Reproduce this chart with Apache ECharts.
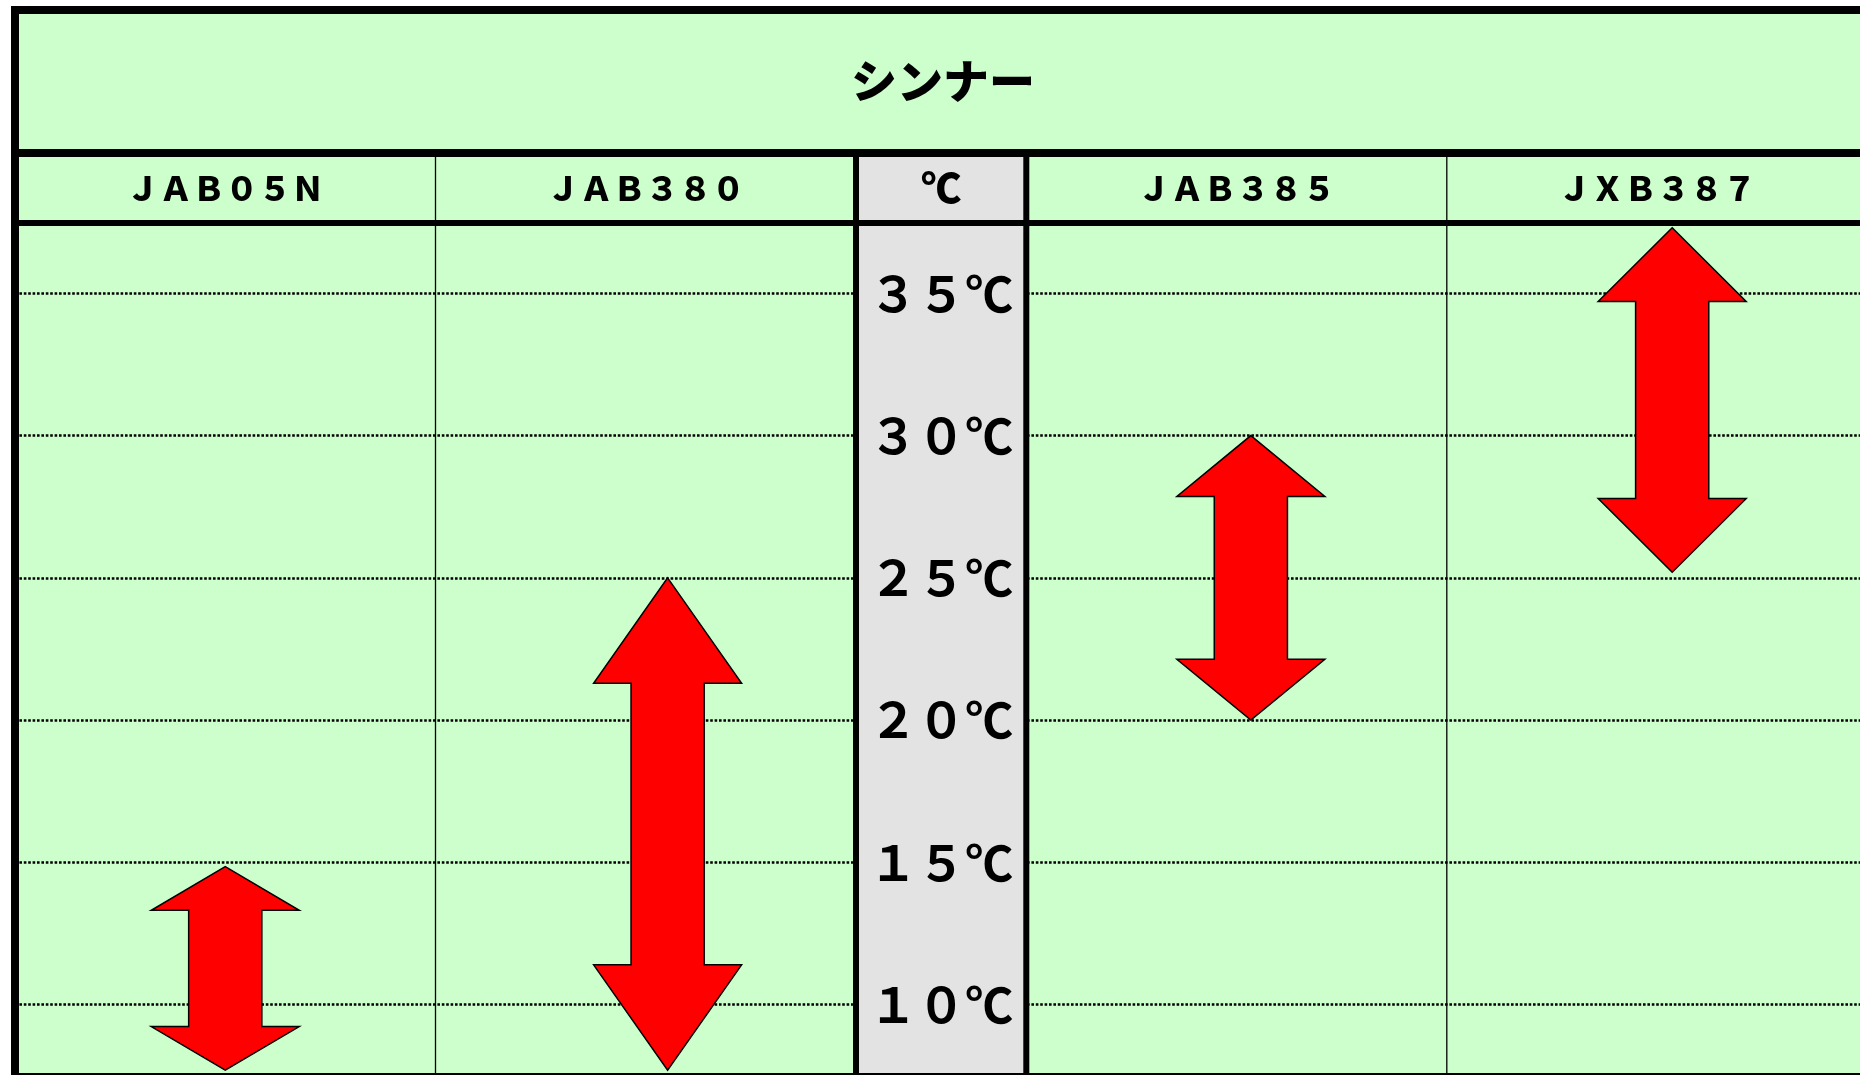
<!DOCTYPE html>
<html>
<head>
<meta charset="utf-8">
<script src="https://cdn.jsdelivr.net/npm/echarts@6/dist/echarts.min.js"></script>
<style>
html, body { margin: 0; padding: 0; background: #fff; }
#chart { width: 1860px; height: 1075px; }
</style>
</head>
<body>
<div id="chart"></div>
<script>
// data
const title = 'シンナー'
const columns = ['ＪＡＢ０５Ｎ', 'ＪＡＢ３８０', '℃', 'ＪＡＢ３８５', 'ＪＸＢ３８７']
const products = ['ＪＡＢ０５Ｎ', 'ＪＡＢ３８０', 'ＪＡＢ３８５', 'ＪＸＢ３８７']
const lowTemp = [7.7, 7.7, 20, 25.2]
const highTemp = [14.85, 25, 30, 37.3]
const tempTicks = [10, 15, 20, 25, 30, 35]
const tickLabels = ['１０℃', '１５℃', '２０℃', '２５℃', '３０℃', '３５℃']

// layout (column widths in "column units", pixels for the table frame)
const colWidths = [1, 1, 0.405, 1, 1]
const arrowShift = [0, 0.052, 0, 0.034, 0.036]
const colStart = []
colWidths.reduce((acc, w, i) => { colStart[i] = acc; return acc + w }, 0)
const totalUnits = colWidths.reduce((a, b) => a + b, 0)
const colCenter = colStart.map((s, i) => s + colWidths[i] / 2)
const tempCol = columns.indexOf('℃')
const unitPx = 420.5
const gridLeft = 15
const headerY = 188
const FONT = '"Noto Sans CJK JP", "Noto Sans", sans-serif'

const px = u => gridLeft + u * unitPx
const tableRight = px(totalUnits)

let frame = [
    // sheet background
    { type: 'rect', z: -10, shape: { x: 11, y: 6, width: tableRight - 11 + 8, height: 1075 }, style: { fill: '#ccffcc' } },
    // grey temperature column
    { type: 'rect', z: 1, shape: { x: px(colStart[tempCol]), y: 153, width: colWidths[tempCol] * unitPx, height: 930 }, style: { fill: '#e3e3e3' } },
    // outer border and row lines
    { type: 'line', z: 10, shape: { x1: 11, y1: 10, x2: 1870, y2: 10 }, style: { stroke: '#000', lineWidth: 8 } },
    { type: 'line', z: 10, shape: { x1: 15, y1: 6, x2: 15, y2: 1075 }, style: { stroke: '#000', lineWidth: 8 } },
    { type: 'line', z: 10, shape: { x1: 11, y1: 153, x2: 1870, y2: 153 }, style: { stroke: '#000', lineWidth: 8 } },
    { type: 'line', z: 10, shape: { x1: 11, y1: 223, x2: 1870, y2: 223 }, style: { stroke: '#000', lineWidth: 6 } },
    { type: 'line', z: 10, shape: { x1: 11, y1: 1075, x2: 1870, y2: 1075 }, style: { stroke: '#000', lineWidth: 4 } },
    {
        type: 'text', z: 12, x: 943, y: 81,
        style: { text: title, fill: '#000', font: '900 46px ' + FONT, align: 'center', verticalAlign: 'middle' }
    }
]
// column dividers
for (let i = 1; i < columns.length; i++) {
    let thick = i === tempCol || i === tempCol + 1
    let x = px(colStart[i])
    frame.push({
        type: 'line', z: 10,
        shape: { x1: x, y1: 153, x2: x, y2: 1075 },
        style: { stroke: '#000', lineWidth: thick ? 6 : 1.3 }
    })
}

const arrowData = products.map((p, i) => [columns.indexOf(p), lowTemp[i], highTemp[i]])
const headerData = columns.map((c, i) => [i])

function renderArrow(params, api) {
    let ci = api.value(0)
    let xu = colCenter[ci] + arrowShift[ci]
    let top = api.coord([xu, api.value(2)])
    let bottom = api.coord([xu, api.value(1)])
    let cx = top[0]
    let yT = top[1]
    let yB = bottom[1]
    let hw = api.size([0.352, 0])[0] / 2
    let sw = api.size([0.174, 0])[0] / 2
    let hh = (yB - yT) * 0.214
    return {
        type: 'polygon',
        shape: {
            points: [
                [cx, yT], [cx + hw, yT + hh], [cx + sw, yT + hh], [cx + sw, yB - hh], [cx + hw, yB - hh],
                [cx, yB], [cx - hw, yB - hh], [cx - sw, yB - hh], [cx - sw, yT + hh], [cx - hw, yT + hh]
            ]
        },
        style: { fill: '#ff0000', stroke: '#000', lineWidth: 1.5 }
    }
}

function renderHeader(params, api) {
    let i = api.value(0)
    let x = api.coord([colCenter[i], 20])[0]
    let size = i === tempCol ? 40 : 33
    return {
        type: 'text',
        x: x,
        y: headerY,
        style: {
            text: columns[i], fill: '#000',
            font: '900 ' + size + 'px ' + FONT,
            align: 'center', verticalAlign: 'middle'
        }
    }
}

let chart = echarts.init(document.getElementById('chart'))
chart.setOption({
    animation: false,
    backgroundColor: '#fff',
    grid: { left: gridLeft, top: 151, width: totalUnits * unitPx, height: 996, outerBoundsMode: 'none' },
    xAxis: { type: 'value', min: 0, max: totalUnits, show: false },
    yAxis: [
        {
            type: 'value', min: 5, max: 40, interval: 5,
            axisLine: { show: false }, axisTick: { show: false }, axisLabel: { show: false },
            splitLine: { show: true, lineStyle: { color: '#000', width: 2.5, type: [2.6, 1.8] } }
        },
        {
            type: 'value', min: 5, max: 40, interval: 5, position: 'left',
            offset: -(px(colCenter[tempCol]) - gridLeft), z: 20,
            axisLine: { show: false }, axisTick: { show: false }, splitLine: { show: false },
            axisLabel: {
                margin: 0, align: 'center', color: '#000',
                fontSize: 48, fontWeight: 'bold', fontFamily: FONT,
                formatter: v => {
                    let k = tempTicks.indexOf(v)
                    return k < 0 ? '' : tickLabels[k]
                }
            }
        }
    ],
    graphic: { elements: frame },
    series: [
        {
            type: 'custom', name: 'range', z: 3,
            renderItem: renderArrow, data: arrowData,
            encode: { x: 0, y: [1, 2] }, clip: false
        },
        {
            type: 'custom', name: 'header', z: 12,
            renderItem: renderHeader, data: headerData, clip: false, silent: true
        }
    ]
})
</script>
</body>
</html>
